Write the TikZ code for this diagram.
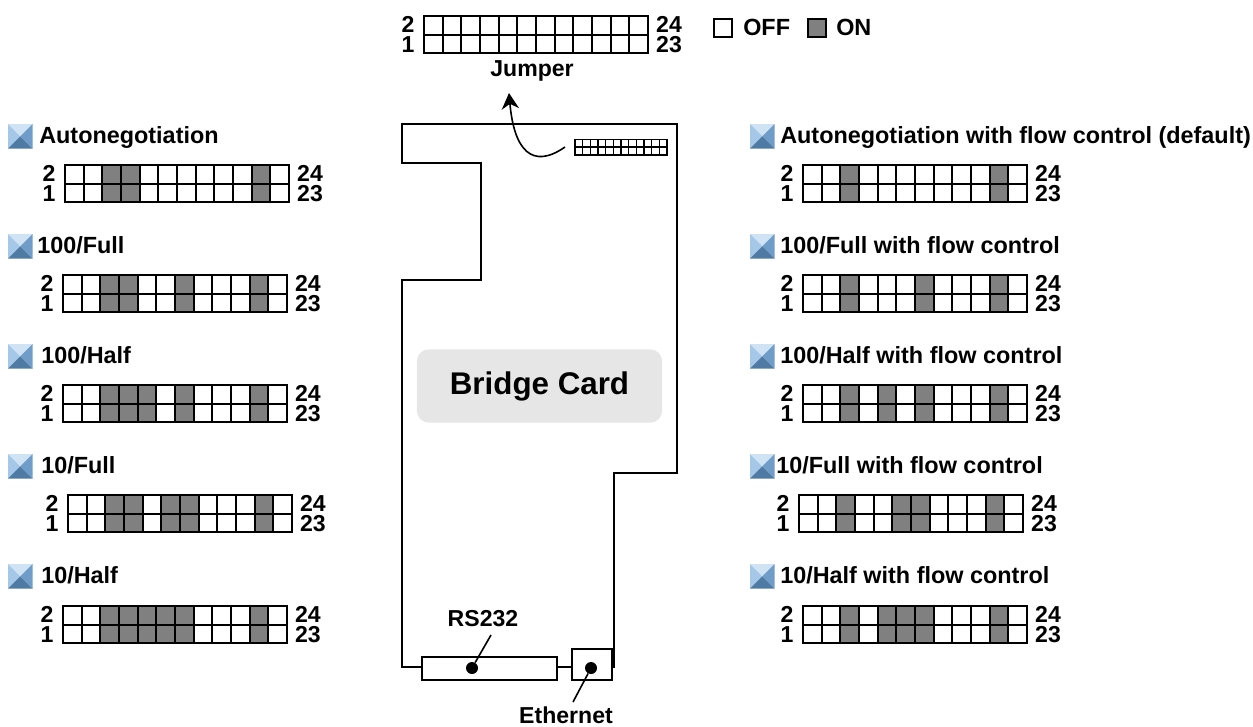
\documentclass[tikz,border=0pt]{standalone}
\usepackage{fontspec}
\setmainfont{Liberation Sans}
\usetikzlibrary{arrows.meta, calc}
\definecolor{jumperon}{RGB}{128,128,128}
\definecolor{cardgray}{RGB}{230,230,230}
\definecolor{iconlight}{RGB}{207,227,245}
\definecolor{iconleft}{RGB}{165,200,232}
\definecolor{iconright}{RGB}{111,156,200}
\definecolor{icondark}{RGB}{78,122,163}

% one jumper block: name, left, top, columns that are on
\newcommand{\jumperblock}[4]{
    \coordinate (#1) at (#2,#3);
    \foreach \col in {#4} {
        \fill [jumperon] ($(#1)+({(\col-1)*18.67},0)$) rectangle ++(18.67,37.33);
    }
    \foreach \col in {1,...,12} {
        \node (#1-t\col) [pincell] at ($(#1)+({(\col-0.5)*18.67},9.33)$) {};
        \node (#1-b\col) [pincell] at ($(#1)+({(\col-0.5)*18.67},28)$) {};
    }
    \node (#1-two) [pinlabel] at ($(#1)+(-16,8)$) {2};
    \node (#1-one) [pinlabel] at ($(#1)+(-16,29)$) {1};
    \node (#1-top) [pinlabel] at ($(#1)+(245,8)$) {24};
    \node (#1-bot) [pinlabel] at ($(#1)+(245,29)$) {23};
}
% blue pyramid bullet and the mode name
\newcommand{\modehead}[5]{
    \fill [iconlight] (#2,#3) -- ++(24.5,0) -- ++(-12.25,12.25) -- cycle;
    \fill [iconleft] (#2,#3) -- ++(0,24.5) -- ++(12.25,-12.25) -- cycle;
    \fill [iconright] ($(#2,#3)+(24.5,0)$) -- ++(0,24.5) -- ++(-12.25,-12.25) -- cycle;
    \fill [icondark] ($(#2,#3)+(0,24.5)$) -- ++(24.5,0) -- ++(-12.25,-12.25) -- cycle;
    \node (#1) [headlabel] at ($(#2,#3)+(#4,19.5)$) {#5};
}

\begin{document}
\begin{tikzpicture}[
    x=0.75pt, y=-0.75pt,
    every node/.style={font=\bfseries\fontsize{17.3}{19}\selectfont},
    pincell/.style={rectangle, draw=black, line width=1.6pt, minimum size=14pt, inner sep=0pt},
    smallcell/.style={rectangle, draw=black, line width=1pt, minimum size=5.75pt, inner sep=0pt},
    pinlabel/.style={inner sep=0pt},
    headlabel/.style={anchor=base west, inner sep=0pt, font=\bfseries\fontsize{17.55}{19}\selectfont},
    plainlabel/.style={anchor=base, inner sep=0pt},
    swatch/.style={rectangle, draw=black, line width=1.4pt, minimum size=14pt, inner sep=0pt},
    socket/.style={rectangle, draw=black, line width=1.4pt, inner sep=0pt, anchor=north west, fill=white},
    dot/.style={circle, fill=black, inner sep=0pt, minimum size=9pt},
    board/.style={line width=1.4pt},
    arrow/.style={-{Stealth[length=12pt, width=13pt]}, line width=1.2pt}
]
\useasboundingbox (0,0) rectangle (1253,726);

% top jumper and legend
\jumperblock{main}{424}{16}{}
\node (jumpertext) [plainlabel] at (532,76) {Jumper};
\node (offbox) [swatch, fill=white] at (723,28) {};
\node (offtext) [headlabel] at (743,35) {OFF};
\node (onbox) [swatch, fill=jumperon] at (817,28) {};
\node (ontext) [headlabel] at (836,35) {ON};

% left column
\modehead{autohead}{8}{124}{31}{Autonegotiation}
\jumperblock{auto}{65}{165}{3,4,11}
\modehead{fullhead}{8}{234}{29}{100/Full}
\jumperblock{full}{63}{275}{3,4,7,11}
\modehead{halfhead}{8}{344}{33}{100/Half}
\jumperblock{half}{63}{385}{3,4,5,7,11}
\modehead{tenfullhead}{8}{454}{33}{10/Full}
\jumperblock{tenfull}{68}{495}{3,4,6,7,11}
\modehead{tenhalfhead}{8}{564}{33}{10/Half}
\jumperblock{tenhalf}{63}{606}{3,4,5,6,7,11}

% right column
\modehead{autoflowhead}{750}{124}{30}{Autonegotiation with flow control (default)}
\jumperblock{autoflow}{803}{165}{3,11}
\modehead{fullflowhead}{750}{234}{30}{100/Full with flow control}
\jumperblock{fullflow}{803}{275}{3,7,11}
\modehead{halfflowhead}{750}{344}{30}{100/Half with flow control}
\jumperblock{halfflow}{803}{385}{3,5,7,11}
\modehead{tenfullflowhead}{750}{454}{26}{10/Full with flow control}
\jumperblock{tenfullflow}{799}{495}{3,6,7,11}
\modehead{tenhalfflowhead}{750}{564}{30}{10/Half with flow control}
\jumperblock{tenhalfflow}{803}{606}{3,5,6,7,11}

% the card
\draw [board] (421,667) -- (402,667) -- (402,280) -- (481,280) -- (481,163) -- (402,163)
    -- (402,124) -- (677,124) -- (677,473) -- (614,473) -- (614,667) -- (611,667);
\draw [board] (556,667) -- (571,667);
\node (bridge) [rectangle, rounded corners=9pt, fill=cardgray, minimum width=184pt, minimum height=55pt,
    inner sep=0pt, font=\bfseries\fontsize{23.5}{26}\selectfont] at (539.5,386) {Bridge Card};

\node (rsbox) [socket, minimum width=101pt, minimum height=17pt] at (421,656) {};
\node (ethbox) [socket, minimum width=30pt, minimum height=23pt] at (571,648) {};
\node (rsdot) [dot] at (472,668) {};
\node (ethdot) [dot] at (591,668) {};
\node (rstext) [plainlabel] at (483,626) {RS232};
\node (ethtext) [plainlabel] at (566,723) {Ethernet};
\coordinate (rsend) at (491,635);
\coordinate (ethend) at (573,702);
\draw [line width=1.2pt] (rsdot) -- (rsend);
\draw [line width=1.2pt] (ethdot) -- (ethend);

% small jumper on the card
\foreach \col in {1,...,12} {
    \node (small-t\col) [smallcell] at ({575+(\col-0.5)*7.67},143) {};
    \node (small-b\col) [smallcell] at ({575+(\col-0.5)*7.67},151) {};
}
\coordinate (arrowfrom) at (565,147);
\coordinate (arrowto) at (509,93);
\draw [arrow] (arrowfrom) .. controls (532,170) and (514,150) .. (arrowto);

\end{tikzpicture}
\end{document}
